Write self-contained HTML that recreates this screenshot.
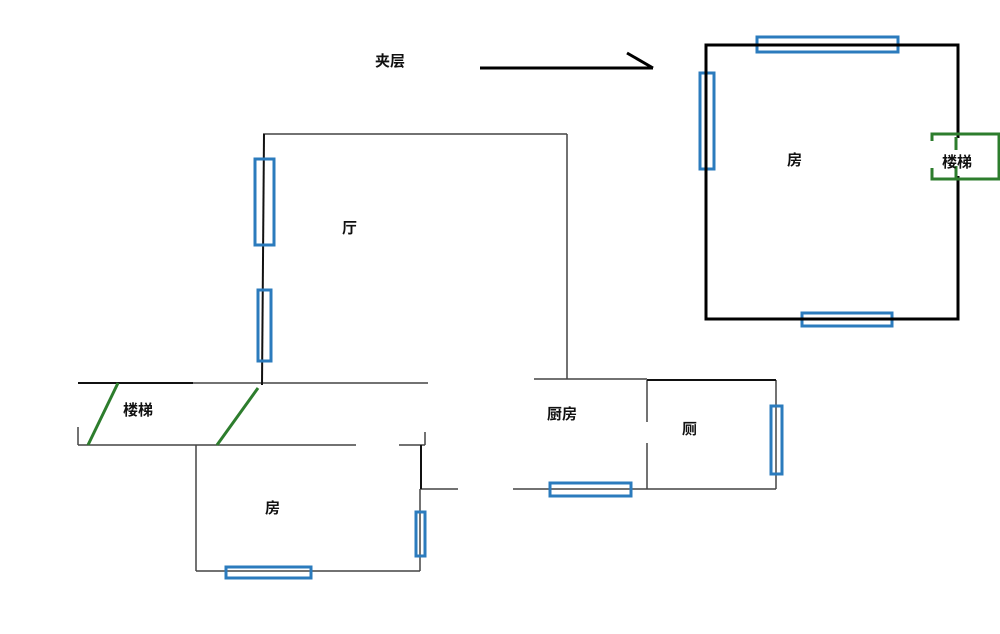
<!DOCTYPE html>
<html><head><meta charset="utf-8"><style>
html,body{margin:0;padding:0;background:#fff;}
svg{display:block;}
text{font-family:"Liberation Sans","Noto Sans CJK SC",sans-serif;font-size:15px;font-weight:bold;fill:#111;}
</style></head><body>
<svg width="1000" height="634" viewBox="0 0 1000 634" xmlns="http://www.w3.org/2000/svg">
<rect width="1000" height="634" fill="#fff"/>
<!-- arrow -->
<line x1="480" y1="68" x2="653" y2="68" stroke="#000" stroke-width="3"/>
<line x1="627" y1="53" x2="653" y2="68" stroke="#000" stroke-width="3"/>
<text x="375" y="66">夹层</text>

<!-- hall -->
<g stroke="#444" stroke-width="1.5" fill="none">
<line x1="263" y1="134" x2="567" y2="134"/>
<line x1="567" y1="134" x2="567" y2="379"/>
<line x1="534" y1="379" x2="647" y2="379"/>
<line x1="193" y1="383" x2="428" y2="383"/>
<line x1="78" y1="445" x2="356" y2="445"/>
<line x1="399" y1="445" x2="425" y2="445"/>
<line x1="425" y1="432" x2="425" y2="445"/>
<line x1="78" y1="427" x2="78" y2="445"/>
<line x1="196" y1="445" x2="196" y2="571"/>
<line x1="196" y1="571" x2="420" y2="571"/>
<line x1="420" y1="489" x2="420" y2="571"/>
<line x1="420" y1="489" x2="458" y2="489"/>
<line x1="513" y1="489" x2="776" y2="489"/>
<line x1="647" y1="380" x2="647" y2="422"/>
<line x1="647" y1="443" x2="647" y2="489"/>
<line x1="776" y1="380" x2="776" y2="489"/>
</g>
<line x1="264" y1="134" x2="262" y2="385" stroke="#111" stroke-width="2"/>
<line x1="78" y1="383" x2="193" y2="383" stroke="#111" stroke-width="2"/>
<line x1="647" y1="380" x2="776" y2="380" stroke="#111" stroke-width="2"/>
<line x1="421" y1="445" x2="421" y2="489" stroke="#111" stroke-width="2"/>

<!-- green stair diagonals -->
<line x1="118" y1="383" x2="88" y2="445" stroke="#2d7d2d" stroke-width="3"/>
<line x1="258" y1="388" x2="217" y2="445" stroke="#2d7d2d" stroke-width="3"/>

<!-- blue windows -->
<g stroke="#2b7bbd" stroke-width="3" fill="none">
<rect x="255" y="159" width="19" height="86"/>
<rect x="258" y="290" width="13" height="71"/>
<rect x="226" y="567" width="85" height="11"/>
<rect x="416" y="512" width="9" height="44"/>
<rect x="550" y="483" width="81" height="13"/>
<rect x="771" y="406" width="11" height="68"/>
<rect x="757" y="37" width="141" height="15"/>
<rect x="700" y="73" width="14" height="96"/>
<rect x="802" y="313" width="90" height="13"/>
</g>

<!-- big room -->
<rect x="706" y="45" width="252" height="274" fill="none" stroke="#000" stroke-width="3"/>
<rect x="950" y="138" width="14" height="38" fill="#fff"/>
<g stroke="#2d7d2d" stroke-width="3" fill="none">
<polyline points="932,141 932,134 999,134 999,179 932,179 932,168"/>
<line x1="956" y1="137" x2="956" y2="150"/>
<line x1="956" y1="166" x2="956" y2="178"/>
</g>

<text x="342" y="233">厅</text>
<text x="123" y="415">楼梯</text>
<text x="265" y="513">房</text>
<text x="547" y="419">厨房</text>
<text x="682" y="434">厕</text>
<text x="787" y="165">房</text>
<text x="942" y="167">楼梯</text>
</svg>
</body></html>
